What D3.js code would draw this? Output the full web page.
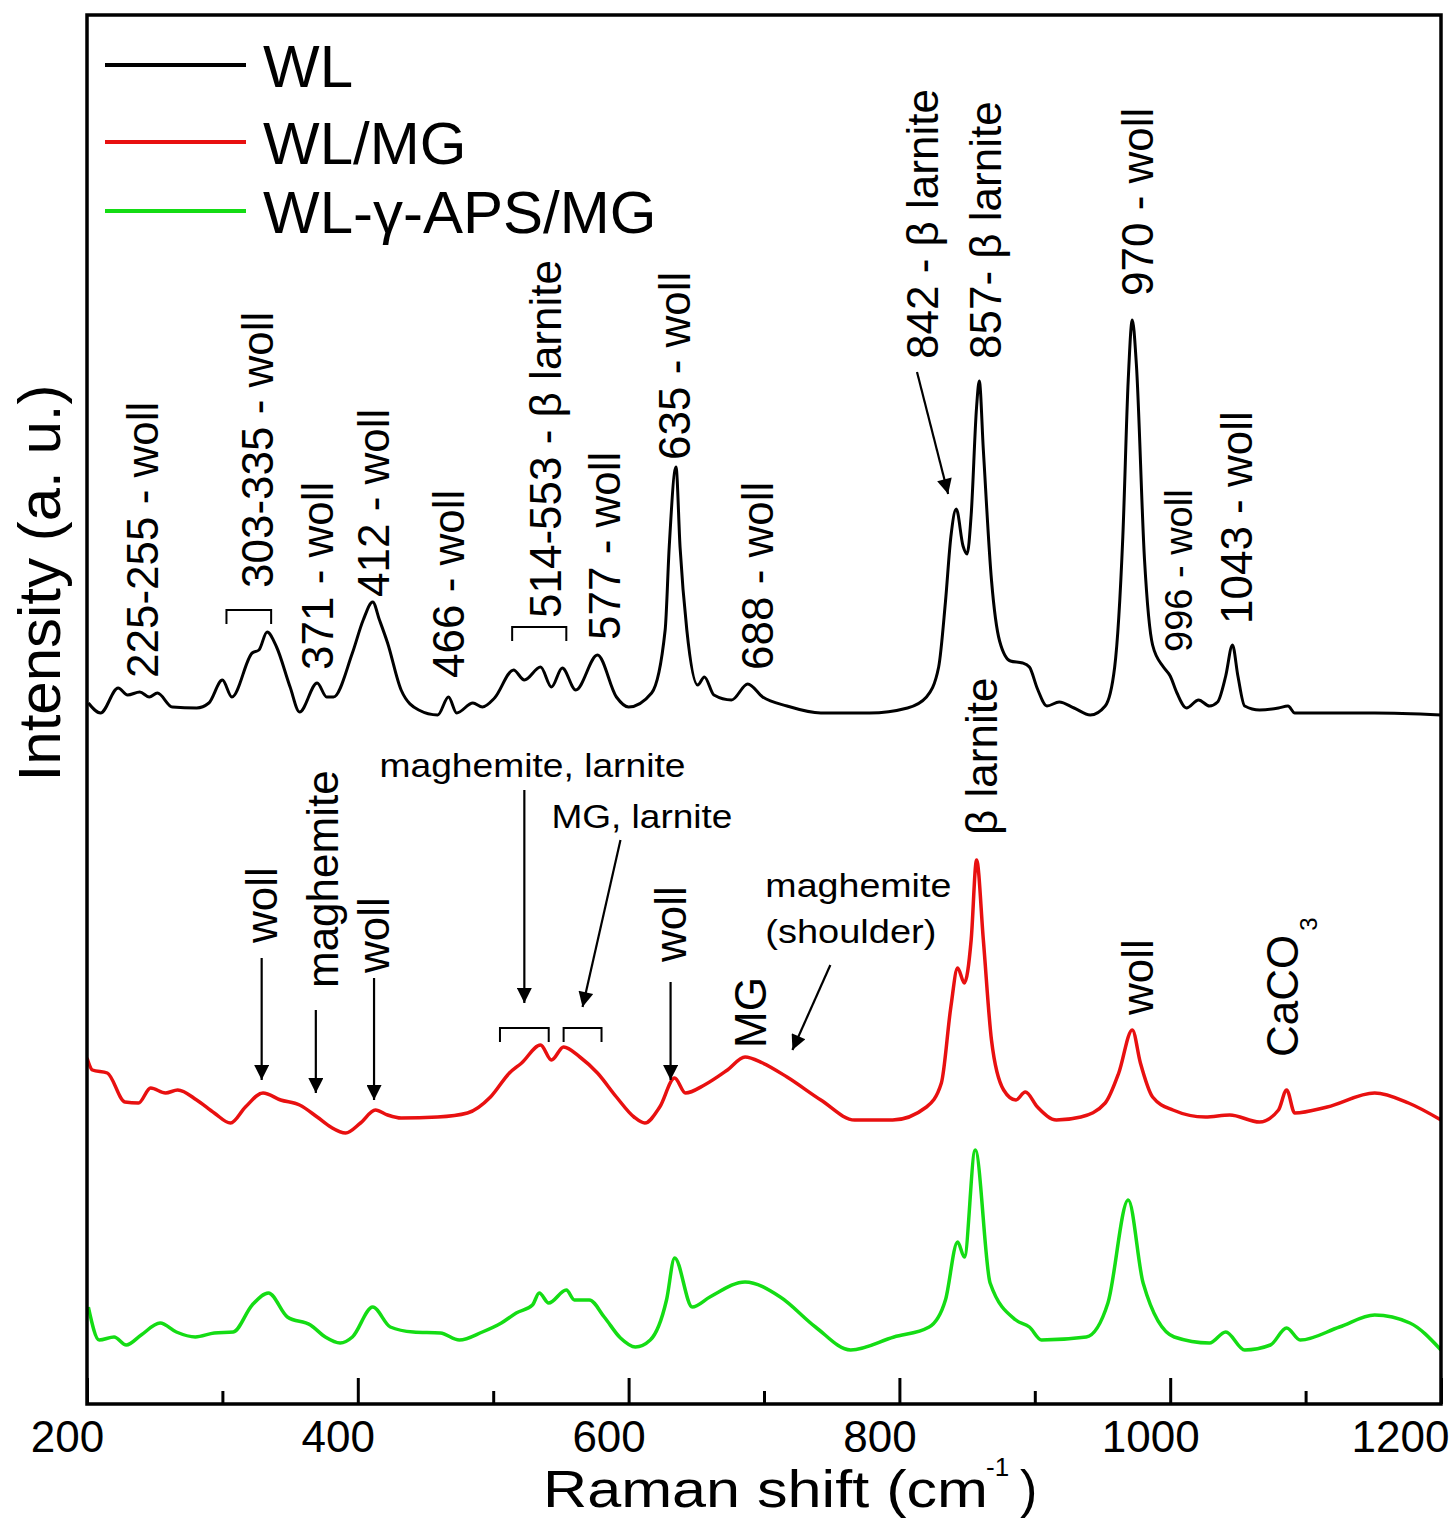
<!DOCTYPE html>
<html>
<head>
<meta charset="utf-8">
<script src="https://cdn.jsdelivr.net/npm/d3@7"></script>
<style>
  body { margin: 0; background: #fff; }
  text { font-family: "Liberation Sans", Arial, sans-serif; fill: #000; }
</style>
</head>
<body>
<svg id="chart"></svg>
<script>
// ---- data: [Raman shift (cm-1), stacked intensity (a.u.)] ----
const seriesNames = ["WL", "WL/MG", "WL-\u03b3-APS/MG"];
const seriesColors = ["#000000", "#e81010", "#14dc14"];

const wl = [
  [201,701],[210,691],[223,716],[230,709],[239,712],[246,707],[252,711],[263,697],[281,696],[290,701],
  [300,724],[307,707],[322,751],[327,754],[333,772],[340,757],[350,717],[357,692],[370,721],[377,707],
  [382,707],[396,751],[404,784],[411,802],[416,784],[422,761],[432,714],[445,694],[459,689],[467,707],
  [473,691],[485,701],[492,697],[501,706],[515,734],[523,724],[535,737],[543,717],[551,736],[561,714],
  [577,749],[591,707],[600,697],[617,711],[627,774],[630,857],[635,937],[638,857],[643,774],[651,719],
  [656,727],[663,709],[676,704],[688,720],[699,707],[717,698],[742,691],[778,691],[806,696],[820,707],
  [829,737],[834,802],[838,867],[842,895],[847,858],[850,850],[853,889],[857,997],[859,1023],[862,954],
  [868,824],[874,763],[882,743],[891,741],[896,737],[902,715],[909,698],[918,702],[929,696],[941,689],
  [952,698],[959,737],[965,867],[969,1024],[972,1084],[975,1040],[981,845],[987,759],[995,737],[1000,728],
  [1005,711],[1012,696],[1021,704],[1029,698],[1035,702],[1041,728],[1046,759],[1050,728],[1055,698],[1066,694],
  [1080,696],[1087,698],[1092,691],[1116,691],[1151,691],[1200,689]
];

const wlmg = [
  [200,346],[204,334],[215,331],[228,302],[238,301],[247,316],[258,311],[267,314],[281,304],[294,291],
  [306,281],[317,297],[330,311],[343,304],[357,299],[370,287],[380,277],[391,271],[402,281],[413,294],
  [422,289],[432,286],[459,287],[481,291],[498,307],[512,331],[521,341],[535,359],[543,344],[552,357],
  [564,347],[577,331],[591,307],[604,287],[612,281],[623,297],[634,326],[642,311],[656,319],[673,334],
  [686,347],[699,341],[717,327],[742,304],[767,284],[795,284],[820,297],[831,321],[838,397],[843,436],
  [848,421],[853,464],[857,544],[862,464],[868,364],[877,314],[886,304],[893,312],[902,297],[916,284],
  [934,287],[952,301],[962,331],[972,374],[978,341],[987,307],[1002,294],[1026,287],[1044,289],[1066,282],
  [1080,294],[1086,314],[1092,291],[1116,297],[1151,311],[1176,301],[1200,284]
];

const wlaps = [
  [201,97],[209,64],[220,67],[229,59],[240,69],[254,81],[266,72],[280,67],[294,71],[308,72],
  [322,99],[334,111],[348,87],[365,79],[376,67],[387,61],[396,67],[411,97],[424,77],[441,72],
  [461,71],[475,64],[492,72],[506,81],[517,91],[529,99],[534,111],[541,101],[554,114],[560,104],
  [571,104],[582,87],[594,66],[605,57],[616,64],[628,104],[634,146],[647,97],[660,107],[686,122],
  [712,107],[738,77],[764,54],[796,67],[822,77],[834,104],[843,162],[848,147],[856,254],[867,121],
  [886,84],[896,77],[905,64],[938,67],[954,101],[969,204],[980,121],[1003,67],[1029,61],[1041,72],
  [1055,54],[1074,59],[1086,76],[1096,64],[1125,77],[1151,89],[1177,81],[1200,54]
];

const xTicks = [200, 400, 600, 800, 1000, 1200];
const xMinorTicks = [300, 500, 700, 900, 1100];

// rotated peak labels: [shift, intensity at text start, text]
const wlLabels = [
  [241,726,"225-255 - woll"],[326,816,"303-335 - woll"],[370,734,"371 - woll"],[412,807,"412 - woll"],
  [467,726,"466 - woll"],[539,786,"514-553 - \u03b2 larnite"],[582,764,"577 - woll"],[634,944,"635 - woll"],
  [695,734,"688 - woll"],[817,1045,"842 - \u03b2 larnite"],[864,1045,"857- \u03b2 larnite"],[976,1108,"970 - woll"],
  [1006,752,"996 - woll"],[1049,780,"1043 - woll"]
];
const mgLabels = [
  [329,461,"woll"],[374,416,"maghemite"],[412,431,"woll"],[631,442,"woll"],
  [690,356,"MG"],[861,569,"\u03b2 larnite"],[976,389,"woll"]
];
// horizontal labels: [shift, intensity of baseline, text]
const flatLabels = [
  [416,627,"maghemite, larnite"],[543,576,"MG, larnite"],[701,507,"maghemite"],[701,461,"(shoulder)"]
];
// arrows: [from shift, from intensity, to shift, to intensity]
const arrows = [
  [813,1032,836,910],[329,446,329,324],[369,394,369,311],[412,426,412,304],
  [523,614,523,401],[594,564,566,397],[631,422,631,324],[749,439,721,354]
];
// brackets: [from shift, to shift, intensity of top]
const brackets = [[303,336,794],[514,554,777],[505,541,376],[552,580,376]];

// ---- layout ----
const width = 1452, height = 1520;
const plotL = 87, plotR = 1441, plotT = 15, plotB = 1404;

const svg = d3.select("#chart")
  .attr("width", width)
  .attr("height", height)
  .attr("viewBox", [0, 0, width, height]);

const x = d3.scaleLinear().domain([200, 1200]).range([plotL, plotR]);
const y = d3.scaleLinear().domain([0, plotB - plotT]).range([plotB, plotT]);

svg.append("defs").call(defs => {
  defs.append("clipPath").attr("id", "clip")
    .append("rect").attr("x", plotL).attr("y", plotT)
    .attr("width", plotR - plotL).attr("height", plotB - plotT);
  defs.append("marker").attr("id", "arrowhead")
    .attr("viewBox", "0 0 10 10").attr("refX", 10).attr("refY", 5)
    .attr("markerUnits", "userSpaceOnUse")
    .attr("markerWidth", 26).attr("markerHeight", 15)
    .attr("orient", "auto")
    .append("path").attr("d", "M0,0L10,5L0,10Z").attr("fill", "#000");
});

// spectra
const line = d3.line()
  .curve(d3.curveMonotoneX)
  .x(d => x(d[0])).y(d => y(d[1]));
svg.append("g").attr("clip-path", "url(#clip)")
  .selectAll("path")
  .data([wl, wlmg, wlaps])
  .join("path")
    .attr("d", line)
    .attr("fill", "none")
    .attr("stroke", (d, i) => seriesColors[i])
    .attr("stroke-width", (d, i) => i === 0 ? 3 : 3.5)
    .attr("stroke-linejoin", "round");

// frame
svg.append("rect")
  .attr("x", plotL).attr("y", plotT)
  .attr("width", plotR - plotL).attr("height", plotB - plotT)
  .attr("fill", "none").attr("stroke", "#000").attr("stroke-width", 3.5);

// x axis (ticks inward)
svg.append("g")
  .attr("transform", `translate(0,${plotB})`)
  .call(d3.axisBottom(x).tickValues(xTicks).tickSize(-26).tickPadding(17).tickFormat(d3.format("d")))
  .call(g => g.select(".domain").remove())
  .call(g => g.selectAll(".tick line").attr("stroke-width", 3))
  .call(g => g.selectAll(".tick text")
    .attr("font-size", 44)
    .attr("font-family", "\"Liberation Sans\", Arial, sans-serif")
    .attr("dx", d => d === 1200 ? -41 : -20));
svg.append("g")
  .attr("transform", `translate(0,${plotB})`)
  .call(d3.axisBottom(x).tickValues(xMinorTicks).tickSize(-13).tickFormat(""))
  .call(g => g.select(".domain").remove())
  .call(g => g.selectAll(".tick line").attr("stroke-width", 3));

// axis titles
svg.append("text")
  .attr("x", 543).attr("y", 1507)
  .attr("font-size", 52)
  .attr("textLength", 445).attr("lengthAdjust", "spacingAndGlyphs")
  .text("Raman shift (cm");
svg.append("text").attr("x", 986).attr("y", 1476).attr("font-size", 26).text("-1");
svg.append("text").attr("x", 1020).attr("y", 1507).attr("font-size", 52).text(")");

svg.append("text")
  .attr("transform", "translate(60,583) rotate(-90)")
  .attr("text-anchor", "middle")
  .attr("font-size", 60)
  .text("Intensity (a. u.)");

// legend
const legend = svg.append("g")
  .selectAll("g")
  .data(seriesNames)
  .join("g")
    .attr("transform", (d, i) => `translate(0,${[65, 142, 211][i]})`);
legend.append("line")
  .attr("x1", 105).attr("x2", 246)
  .attr("stroke", (d, i) => seriesColors[i]).attr("stroke-width", 4);
legend.append("text")
  .attr("x", 263).attr("dy", "0.36em")
  .attr("font-size", 60)
  .text(d => d);

// rotated peak labels
const rotLabel = (g, data) => g.selectAll("text")
  .data(data)
  .join("text")
    .attr("transform", d => `translate(${x(d[0])},${y(d[1])}) rotate(-90)`)
    .attr("dy", "0.35em")
    .attr("font-size", d => d[2] === "996 - woll" ? 38 : 44)
    .text(d => d[2]);
svg.append("g").call(rotLabel, wlLabels);
svg.append("g").call(rotLabel, mgLabels);

// CaCO3 with subscript
svg.append("text")
  .attr("transform", `translate(${x(1083)},${y(347)}) rotate(-90)`)
  .attr("dy", "0.35em")
  .attr("font-size", 44)
  .call(t => t.append("tspan").text("CaCO"))
  .call(t => t.append("tspan").attr("font-size", 24).attr("dx", 4).attr("dy", "0.8em").text("3"));

// horizontal labels
const flatWidths = [306, 181, 186, 171];
svg.append("g").selectAll("text")
  .data(flatLabels)
  .join("text")
    .attr("x", d => x(d[0])).attr("y", d => y(d[1]))
    .attr("font-size", 34)
    .attr("textLength", (d, i) => flatWidths[i]).attr("lengthAdjust", "spacingAndGlyphs")
    .text(d => d[2]);

// arrows
svg.append("g").selectAll("line")
  .data(arrows)
  .join("line")
    .attr("x1", d => x(d[0])).attr("y1", d => y(d[1]))
    .attr("x2", d => x(d[2])).attr("y2", d => y(d[3]))
    .attr("stroke", "#000").attr("stroke-width", 2.2)
    .attr("marker-end", "url(#arrowhead)");

// brackets
svg.append("g").selectAll("path")
  .data(brackets)
  .join("path")
    .attr("d", d => `M${x(d[0])},${y(d[2] - 14)}V${y(d[2])}H${x(d[1])}V${y(d[2] - 14)}`)
    .attr("fill", "none").attr("stroke", "#000").attr("stroke-width", 2);
</script>
</body>
</html>
